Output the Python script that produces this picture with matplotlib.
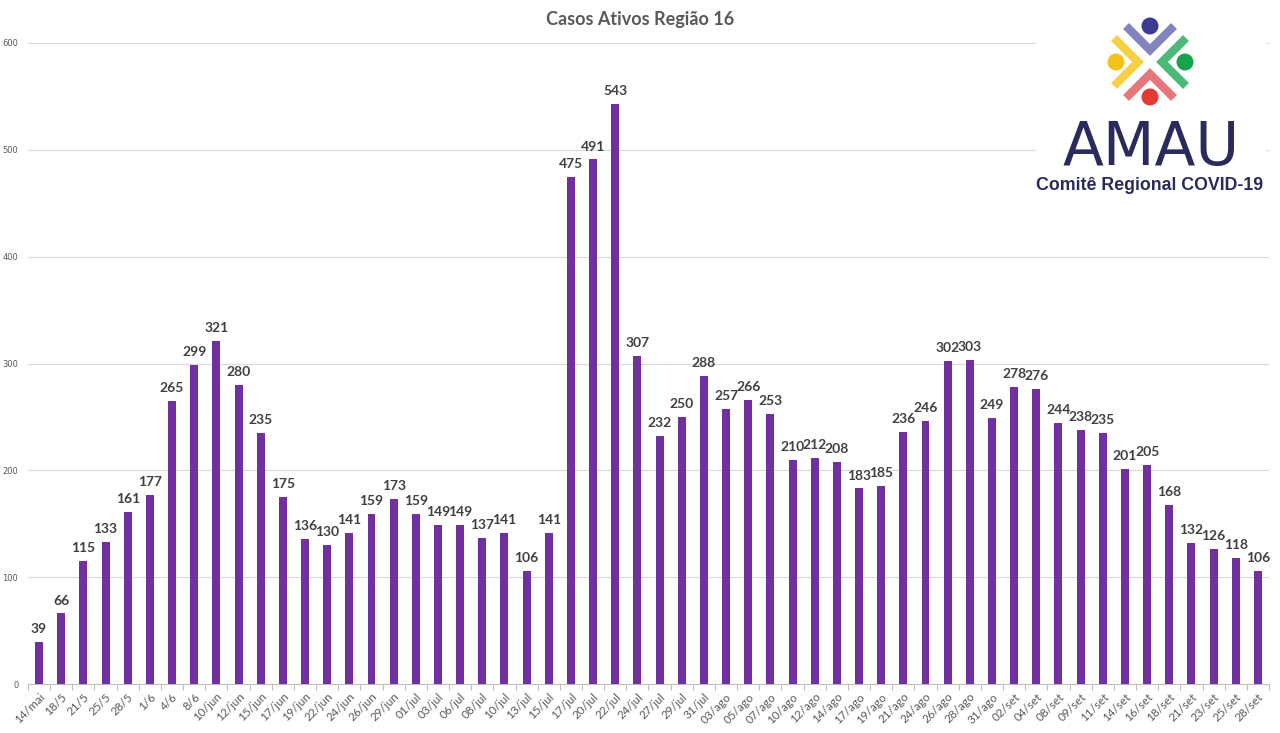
import matplotlib
matplotlib.use("Agg")
import matplotlib.pyplot as plt
from matplotlib.patches import Rectangle, Ellipse
from matplotlib.lines import Line2D
import numpy as np

datas = ["14/mai", "18/5", "21/5", "25/5", "28/5", "1/6", "4/6", "8/6",
         "10/jun", "12/jun", "15/jun", "17/jun", "19/jun", "22/jun", "24/jun",
         "26/jun", "29/jun", "01/jul", "03/jul", "06/jul", "08/jul", "10/jul",
         "13/jul", "15/jul", "17/jul", "20/jul", "22/jul", "24/jul", "27/jul",
         "29/jul", "31/jul", "03/ago", "05/ago", "07/ago", "10/ago", "12/ago",
         "14/ago", "17/ago", "19/ago", "21/ago", "24/ago", "26/ago", "28/ago",
         "31/ago", "02/set", "04/set", "08/set", "09/set", "11/set", "14/set",
         "16/set", "18/set", "21/set", "23/set", "25/set", "28/set"]
casos = [39, 66, 115, 133, 161, 177, 265, 299, 321, 280, 235, 175, 136, 130,
         141, 159, 173, 159, 149, 149, 137, 141, 106, 141, 475, 491, 543, 307,
         232, 250, 288, 257, 266, 253, 210, 212, 208, 183, 185, 236, 246, 302,
         303, 249, 278, 276, 244, 238, 235, 201, 205, 168, 132, 126, 118, 106]
y_ticks = [0, 100, 200, 300, 400, 500, 600]

W, H = 1280, 733
fig = plt.figure(figsize=(W / 100, H / 100), dpi=100)
fig.patch.set_facecolor("white")

def fx(px):
    return px / W

def fy(py):
    return 1 - py / H

ax = fig.add_axes([fx(28), fy(684), fx(1269) - fx(28), fy(43) - fy(684)])
x = np.arange(len(casos))
ax.bar(x, casos, width=0.36, color="#7030A0", zorder=3)
ax.set_xlim(-0.5, len(casos) - 0.5)
ax.set_ylim(0, 600)
ax.set_yticks(y_ticks)
ax.set_yticklabels([str(v) for v in y_ticks], fontsize=6, color="#595959")
ax.tick_params(axis="y", length=0, pad=7)
ax.grid(axis="y", color="#d9d9d9", linewidth=0.8, zorder=0)

ax.set_xticks(x)
ax.set_xticklabels(datas, rotation=45, ha="right", rotation_mode="anchor",
                   fontsize=8.5, color="#595959", family="Lato")
ax.tick_params(axis="x", which="major", length=0, pad=5)
ax.set_xticks(np.arange(-0.5, len(casos), 1), minor=True)
ax.tick_params(axis="x", which="minor", length=4, color="#bfbfbf", width=0.8)

for s in ["top", "right", "left"]:
    ax.spines[s].set_visible(False)
ax.spines["bottom"].set_color("#bfbfbf")
ax.spines["bottom"].set_linewidth(0.8)

for xi, v in zip(x, casos):
    ax.annotate(str(v), (xi, v), xytext=(0, 5), textcoords="offset points",
                ha="center", va="bottom", fontsize=10, fontweight="bold",
                color="#404040", family="Lato")

fig.text(0.5, fy(20), "Casos Ativos Região 16", ha="center", va="center",
         fontsize=13, fontweight="bold", color="#595959", family="Lato")

# logo AMAU
fig.add_artist(Rectangle((fx(1036), fy(202)), fx(1266) - fx(1036), fy(14) - fy(202),
                         transform=fig.transFigure, facecolor="white",
                         edgecolor="none", zorder=5))

def chevron(pts, color):
    xs = [fx(p[0]) for p in pts]
    ys = [fy(p[1]) for p in pts]
    fig.add_artist(Line2D(xs, ys, transform=fig.transFigure, color=color,
                          linewidth=6, alpha=0.8, solid_capstyle="butt",
                          solid_joinstyle="miter", zorder=6))

chevron([(1126, 26), (1150, 50), (1174, 26)], "#6466b0")
chevron([(1114, 38), (1138, 62), (1114, 86)], "#f5c518")
chevron([(1186, 38), (1162, 62), (1186, 86)], "#1fa85a")
chevron([(1126, 98), (1150, 74), (1174, 98)], "#e2545a")

def dot(cx, cy, color):
    fig.add_artist(Ellipse((fx(cx), fy(cy)), 17 / W, 17 / H,
                           transform=fig.transFigure, facecolor=color,
                           edgecolor="none", zorder=7))

dot(1150, 26, "#3b3b94")
dot(1116, 62, "#f4c21a")
dot(1185, 62, "#16a34a")
dot(1150, 97, "#e53935")

fig.text(fx(1151), fy(148), "AMAU", ha="center", va="center", fontsize=43,
         color="#2b2a5c", family="DejaVu Sans", zorder=8)
fig.text(fx(1150), fy(186), "Comitê Regional COVID-19", ha="center", va="center",
         fontsize=12.8, fontweight="bold", color="#2b2a5c",
         family="Liberation Sans", zorder=8)

fig.savefig("out.png", dpi=100, facecolor="white")
